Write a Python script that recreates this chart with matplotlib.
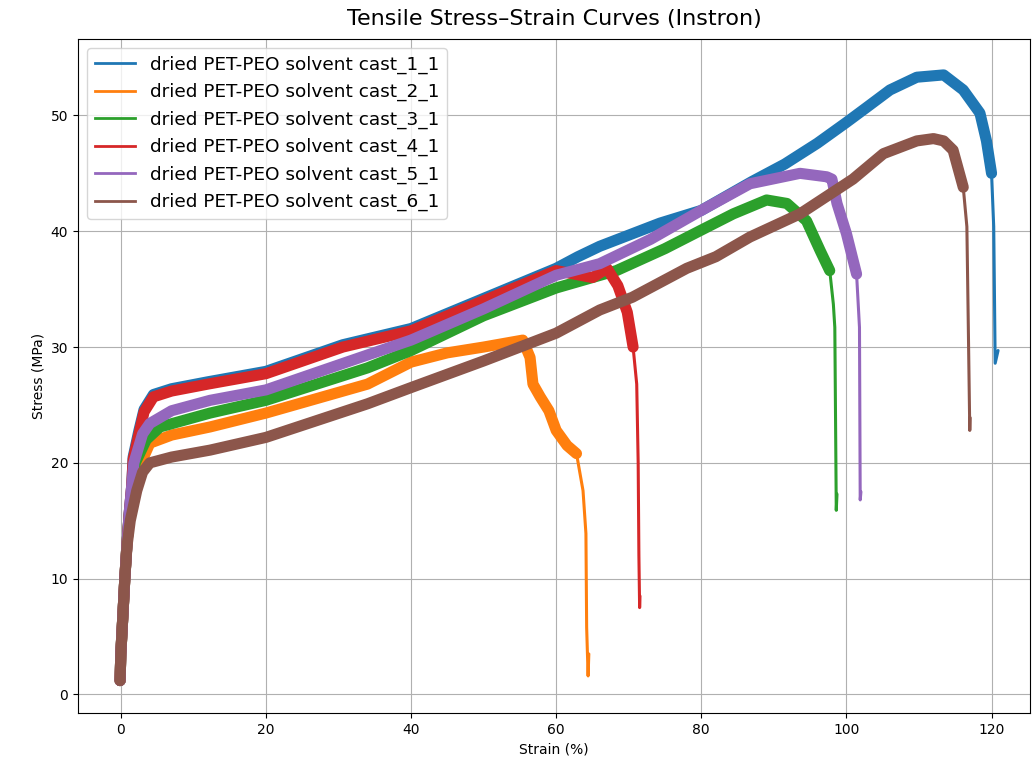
import matplotlib
matplotlib.use("Agg")
import matplotlib.pyplot as plt
from matplotlib.lines import Line2D

labels = [
    "dried PET-PEO solvent cast_1_1",
    "dried PET-PEO solvent cast_2_1",
    "dried PET-PEO solvent cast_3_1",
    "dried PET-PEO solvent cast_4_1",
    "dried PET-PEO solvent cast_5_1",
    "dried PET-PEO solvent cast_6_1",
]
colors = ["#1f77b4", "#ff7f0e", "#2ca02c", "#d62728", "#9467bd", "#8c564b"]

strain_1 = [-0.1, 0.0, 0.3, 0.55, 0.85, 1.15, 1.5, 1.7, 2.5, 3.2, 4.5, 7, 12, 20, 30.6, 40, 50, 60, 63, 66, 74.3, 80, 87, 91.5, 96, 100, 102.8, 106, 109.7, 113.4, 116.1, 118.4, 119.3, 120.0, 120.3, 120.4, 120.5, 120.9]
stress_1 = [1.2, 3.5, 7.0, 10.0, 13.0, 15.6, 18.0, 20.5, 22.8, 24.6, 25.9, 26.4, 27.0, 27.9, 30.2, 31.6, 34.2, 36.8, 37.8, 38.7, 40.7, 41.8, 44.3, 45.8, 47.6, 49.4, 50.7, 52.2, 53.3, 53.5, 52.2, 50.2, 47.8, 45.0, 40.4, 34.6, 28.6, 29.7]

strain_2 = [-0.1, 0.0, 0.3, 0.55, 0.85, 1.15, 1.8, 2.8, 4, 7, 12.3, 20, 34, 40, 45, 50, 55.4, 56.4, 56.8, 57.8, 59, 60, 61.5, 62.8, 63.7, 64.1, 64.2, 64.4, 64.5]
stress_2 = [1.2, 3.5, 7.0, 10.0, 13.0, 15.3, 17.5, 20.0, 21.7, 22.4, 23.1, 24.3, 26.8, 28.7, 29.5, 30.0, 30.6, 29.1, 26.8, 25.7, 24.5, 22.8, 21.5, 20.8, 17.6, 13.9, 5.8, 1.6, 3.5]

strain_3 = [-0.1, 0.0, 0.3, 0.55, 0.85, 1.15, 2.0, 3.5, 5.4, 12.3, 20, 34, 40, 50, 60, 68.3, 75, 80, 84.4, 89, 91.8, 94.5, 96.4, 97.7, 98.2, 98.4, 98.55, 98.6, 98.7]
stress_3 = [1.2, 3.5, 7.0, 10.0, 13.0, 15.5, 20.0, 22.0, 23.1, 24.3, 25.4, 28.2, 29.7, 32.7, 35.1, 36.6, 38.5, 40.1, 41.5, 42.7, 42.4, 40.9, 38.3, 36.6, 33.7, 31.7, 20.0, 15.9, 17.3]

strain_4 = [-0.1, 0.0, 0.3, 0.55, 0.85, 1.15, 1.5, 1.7, 2.5, 3.2, 4.5, 7, 12, 20, 30.6, 40, 50, 60, 65, 67, 68.5, 69.8, 70.6, 71.1, 71.3, 71.4, 71.5, 71.55]
stress_4 = [1.2, 3.5, 7.0, 10.0, 13.0, 15.6, 18.0, 20.3, 22.5, 24.4, 25.7, 26.2, 26.8, 27.7, 30.0, 31.4, 34.0, 36.6, 36.0, 36.8, 35.3, 33.0, 30.0, 26.8, 20.0, 12.0, 7.5, 8.5]

strain_5 = [-0.1, 0.0, 0.3, 0.55, 0.85, 1.15, 1.8, 3.0, 4.0, 7, 12.3, 20, 33, 40, 50, 60, 66, 73, 80, 86.7, 93.6, 97.3, 98.0, 98.7, 100, 101.4, 101.8, 101.9, 102.0]
stress_5 = [1.2, 3.5, 7.0, 10.0, 13.0, 15.6, 20.0, 22.5, 23.4, 24.5, 25.4, 26.3, 29.1, 30.6, 33.3, 36.2, 37.2, 39.3, 41.8, 44.1, 45.0, 44.7, 44.5, 42.4, 39.8, 36.3, 31.7, 16.8, 17.5]

strain_6 = [-0.1, 0.0, 0.3, 0.55, 0.85, 1.3, 2.2, 3.0, 4.0, 7, 12.3, 20, 34, 40, 50, 60, 66, 70.5, 78, 82, 86.7, 93.6, 100.9, 105.1, 109.7, 112, 113.4, 114.7, 116.1, 116.6, 116.8, 117.0, 117.05]
stress_6 = [1.2, 3.5, 7.0, 10.0, 12.8, 15.0, 17.6, 19.2, 20.0, 20.5, 21.1, 22.2, 25.1, 26.5, 28.8, 31.2, 33.2, 34.3, 36.8, 37.8, 39.5, 41.5, 44.5, 46.7, 47.8, 48.0, 47.8, 47.0, 43.8, 40.4, 31.7, 22.8, 23.9]

# strain at which the noisy (band-like) part of each record ends
noisy_until = [120.0, 62.8, 97.7, 70.6, 101.4, 116.1]

series = [(strain_1, stress_1), (strain_2, stress_2), (strain_3, stress_3),
          (strain_4, stress_4), (strain_5, stress_5), (strain_6, stress_6)]

fig = plt.figure(figsize=(10.34, 7.71), dpi=100)
ax = fig.add_axes([78 / 1034, 1 - 713 / 771, (1030 - 78) / 1034, (713 - 39) / 771])

for (sx, sy), c, lim in zip(series, colors, noisy_until):
    nx = [x for x in sx if x <= lim]
    ny = sy[:len(nx)]
    ax.plot(sx, sy, color=c, lw=2.2, solid_joinstyle="round", solid_capstyle="round")
    ax.plot(nx, ny, color=c, lw=8, solid_joinstyle="round", solid_capstyle="round")

ax.set_xlim(-5.9, 125.3)
ax.set_ylim(-1.6, 56.6)
ax.set_xticks([0, 20, 40, 60, 80, 100, 120])
ax.set_yticks([0, 10, 20, 30, 40, 50])
ax.grid(True, color="#b0b0b0", lw=0.8)
ax.set_axisbelow(True)
ax.set_xlabel("Strain (%)")
ax.set_ylabel("Stress (MPa)")
ax.set_title("Tensile Stress\u2013Strain Curves (Instron)", fontsize=16, pad=10)

handles = [Line2D([0], [0], color=c, lw=2) for c in colors]
ax.legend(handles, labels, loc="upper left", fontsize=13.3, handlelength=2.2)

fig.savefig("out.png", dpi=100)
